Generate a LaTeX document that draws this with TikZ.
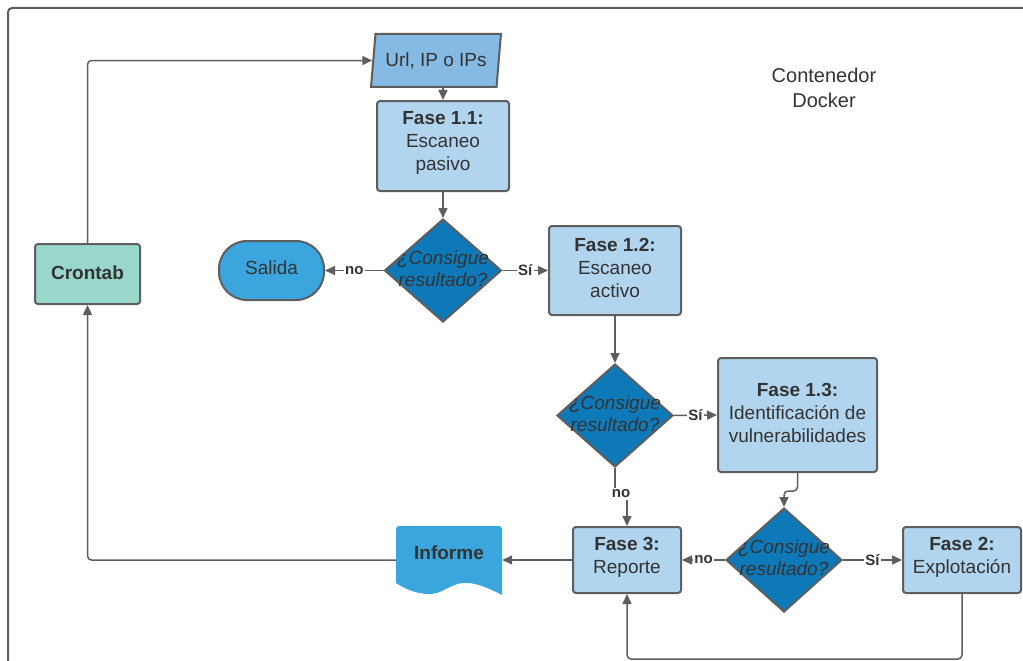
\documentclass[tikz,border=0pt]{standalone}
\usepackage{fontspec}
\setmainfont{Liberation Sans}
\usetikzlibrary{shapes.geometric,arrows.meta,calc}
\definecolor{edgegray}{HTML}{5E5E5E}
\definecolor{txt}{HTML}{333333}
\definecolor{inputblue}{HTML}{84BAE3}
\definecolor{phaseblue}{HTML}{B1D5EF}
\definecolor{decblue}{HTML}{0E79B8}
\definecolor{termblue}{HTML}{3AA6DD}
\definecolor{cronteal}{HTML}{9AD7CB}
\begin{document}
\begin{tikzpicture}[x=1pt,y=-1pt,
  base/.style={draw=edgegray,line width=2pt,text=txt,inner sep=0pt,align=center,
    font=\fontsize{19}{23}\selectfont},
  phase/.style={base,rectangle,rounded corners=3pt,fill=phaseblue},
  ptext/.style={text=txt,inner sep=0pt,align=center,font=\fontsize{19}{23}\selectfont},
  decision/.style={base,diamond,fill=decblue},
  dtext/.style={text=txt,align=center,font=\fontsize{19}{22}\selectfont\itshape},
  conn/.style={draw=edgegray,line width=1.5pt,-{Triangle[length=10pt,width=9pt]}},
  lbl/.style={fill=white,text=txt,inner sep=1.5pt,font=\fontsize{15}{16}\selectfont\bfseries},
  container/.style={draw=edgegray,line width=2pt,rounded corners=4pt}]
\useasboundingbox (0,0) rectangle (1023,661);
\clip (0,0) rectangle (1023,661);
\fill[white] (0,0) rectangle (1023,661);

% Docker container frame
\draw[container] (8,8) rectangle (1060,700);
\node[font=\fontsize{20}{25}\selectfont,text=txt,align=center] (docker) at (824,88) {Contenedor\\Docker};

% Input
\node[base,trapezium,trapezium left angle=77,trapezium right angle=103,trapezium stretches=true,
  minimum width=130pt,minimum height=53pt,fill=inputblue] (url) at (436,60.5) {Url, IP o IPs};

% Phases (boxes, then their captions)
\node[phase,minimum width=132pt,minimum height=90pt] (f11) at (443,146) {};
\node[phase,minimum width=132pt,minimum height=89pt] (f12) at (615,270.5) {};
\node[phase,minimum width=159pt,minimum height=114pt] (f13) at (797.5,415) {};
\node[phase,minimum width=108pt,minimum height=66pt] (f3) at (627,560) {};
\node[phase,minimum width=118pt,minimum height=66pt] (f2) at (962,560) {};
\node[ptext] (f11t) at ([yshift=3pt]f11.center) {\textbf{Fase 1.1:}\\Escaneo\\pasivo};
\node[ptext] (f12t) at ([yshift=3pt]f12.center) {\textbf{Fase 1.2:}\\Escaneo\\activo};
\node[ptext] (f13t) at ([yshift=2pt]f13.center) {\textbf{Fase 1.3:}\\Identificación de\\vulnerabilidades};
\node[ptext] (f3t) at ([yshift=3pt]f3.center) {\textbf{Fase 3:}\\Reporte};
\node[ptext] (f2t) at ([yshift=3pt]f2.center) {\textbf{Fase 2:}\\Explotación};

% Terminal and scheduler
\node[base,rectangle,rounded corners=28pt,fill=termblue,minimum width=105pt,minimum height=59pt] (sal) at (271.5,270.5) {};
\node[ptext] (salt) at ([yshift=2.5pt]sal.center) {Salida};
\node[base,rectangle,rounded corners=3pt,fill=cronteal,minimum width=105pt,minimum height=60pt] (cron) at (87.5,274) {};
\node[ptext,font=\fontsize{19}{23}\selectfont\bfseries] (cront) at ([yshift=1.5pt]cron.center) {Crontab};

% Decisions
\node[decision,minimum width=117pt,minimum height=103pt] (d1) at (443,270.5) {};
\node[dtext] (d1t) at ([yshift=2pt]d1.center) {¿Consigue\\resultado?};
\node[decision,minimum width=116pt,minimum height=103pt] (d2) at (615,415.5) {};
\node[dtext] (d2t) at ([yshift=2pt]d2.center) {¿Consigue\\resultado?};
\node[decision,minimum width=116pt,minimum height=104pt] (d3) at (784,560) {};
\node[dtext] (d3t) at ([yshift=2pt]d3.center) {¿Consigue\\resultado?};

% Report document
\fill[termblue] (396,583) [rounded corners=3pt]-- (396,526) -- (502,526) [sharp corners]-- (502,595)
  .. controls (485,586) and (472,582) .. (463,583)
  .. controls (450,584) and (442,594) .. (430,594)
  .. controls (415,594) and (404,588) .. (396,583) -- cycle;
\node[minimum width=106pt,minimum height=69pt,inner sep=0pt] (inf) at (449,560) {};
\node[text=txt,font=\fontsize{19}{23}\selectfont\bfseries] (inft) at (449,553) {Informe};

% Connectors
\draw[conn] (url.south -| f11.north) -- (f11.north);
\draw[conn] (f11.south) -- (d1.north);
\draw[conn] (d1.west) -- node[lbl] {no} (sal.east);
\draw[conn] (d1.east) -- node[lbl] {Sí} (f12.west);
\draw[conn] (f12.south) -- (d2.north);
\draw[conn] (d2.east) -- node[lbl] {Sí} (f13.west);
\coordinate (jog) at (621,494);
\draw[conn] (d2.south) |- (jog) -| (f3.north);
\node[lbl] (nolbl) at (jog) {no};
\draw[conn,rounded corners=4pt] (f13.south) -- ++(0,18) -| (d3.north);
\draw[conn] (d3.west) -- node[lbl] {no} (f3.east);
\draw[conn] (d3.east) -- node[lbl] {Sí} (f2.west);
\draw[conn,rounded corners=4pt] (f2.south) -- ++(0,65) -| (f3.south);
\draw[conn] (f3.west) -- (inf.east);
\draw[conn,rounded corners=4pt] (inf.west) -| (cron.south);
\draw[conn,rounded corners=4pt] (cron.north) |- (url.west);
\end{tikzpicture}
\end{document}
